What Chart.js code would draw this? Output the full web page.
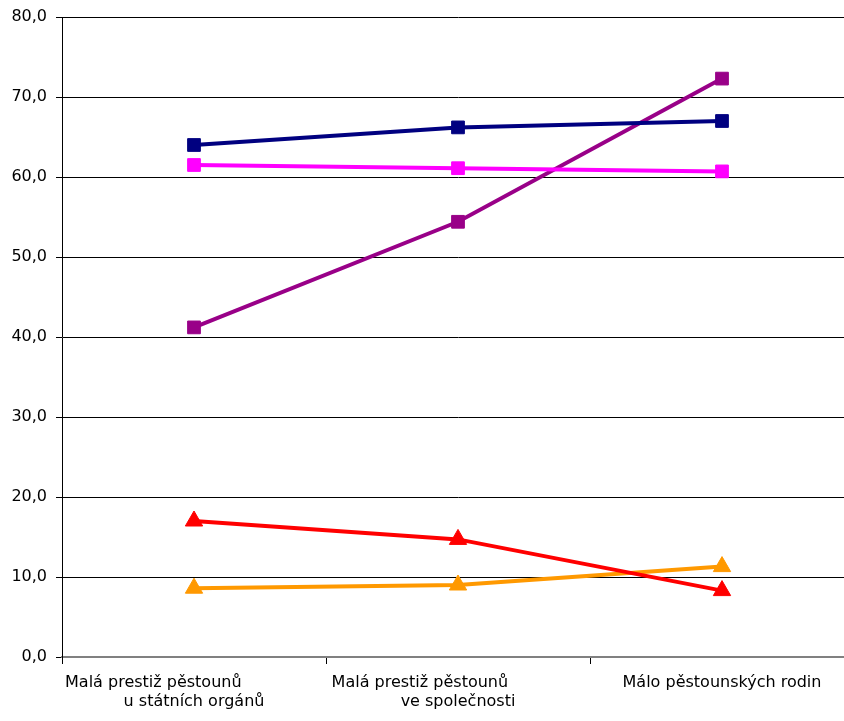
<!DOCTYPE html>
<html>
<head>
<meta charset="utf-8">
<script src="https://cdn.jsdelivr.net/npm/chart.js@4"></script>
<style>
  html, body { margin: 0; padding: 0; background: #fff; overflow: hidden; width: 844px; height: 721px; }
  #wrap { width: 856px; height: 721px; }
  #lineChart { display: block; width: 856px; height: 721px; }
</style>
</head>
<body>
<div id="wrap"><canvas id="lineChart" width="856" height="721"></canvas></div>
<script>
// categories (trailing spaces reproduce the original off-centre wrapping)
const categories = [
  ['Malá prestiž pěstounů                ', 'u státních orgánů'],
  ['Malá prestiž pěstounů               ', 've společnosti'],
  'Málo pěstounských rodin'
];

const navySeries = [64.0, 66.2, 67.0];
const pinkSeries = [61.5, 61.1, 60.7];
const purpleSeries = [41.2, 54.4, 72.3];
const redSeries = [17.0, 14.7, 8.3];
const orangeSeries = [8.6, 9.0, 11.3];

const yMin = 0;
const yMax = 80;
const yStep = 10;

const font = { family: 'DejaVu Sans', size: 16 };

function series(data, color, shape, radius) {
  return {
    data: data,
    borderColor: color,
    backgroundColor: color,
    borderWidth: 4,
    pointStyle: shape,
    pointRadius: radius,
    pointBorderWidth: 1,
    pointBackgroundColor: color,
    pointBorderColor: color,
    tension: 0,
    fill: false
  };
}

new Chart(document.getElementById('lineChart'), {
  type: 'line',
  data: {
    labels: categories,
    datasets: [
      series(navySeries, '#000080', 'rect', 9),
      series(pinkSeries, '#ff00ff', 'rect', 9),
      series(purpleSeries, '#990088', 'rect', 9),
      series(redSeries, '#ff0000', 'triangle', 10),
      series(orangeSeries, '#ff9900', 'triangle', 10)
    ]
  },
  options: {
    responsive: false,
    animation: false,
    layout: { autoPadding: false, padding: { top: 17, right: 2, left: 0, bottom: 0 } },
    plugins: { legend: { display: false }, tooltip: { enabled: false } },
    scales: {
      x: {
        offset: true,
        grid: {
          offset: true,
          drawOnChartArea: false,
          drawTicks: true,
          tickLength: 7,
          color: '#000'
        },
        border: { color: '#808080', width: 2 },
        ticks: {
          color: '#000',
          font: font,
          padding: 9,
          maxRotation: 0,
          autoSkip: false
        },
        afterFit: (scale) => {
          scale.height = 64;
          scale.paddingLeft = 0;
          scale.paddingRight = 0;
        }
      },
      y: {
        min: yMin,
        max: yMax,
        grid: { color: '#000', lineWidth: 1, tickLength: 6 },
        border: { color: '#000', width: 1 },
        ticks: {
          stepSize: yStep,
          color: '#000',
          font: font,
          padding: 9,
          callback: (v) => v.toFixed(1).replace('.', ',')
        },
        afterFit: (scale) => {
          scale.width = 62;
          scale.paddingTop = 0;
          scale.paddingBottom = 0;
        }
      }
    }
  }
});
</script>
</body>
</html>
